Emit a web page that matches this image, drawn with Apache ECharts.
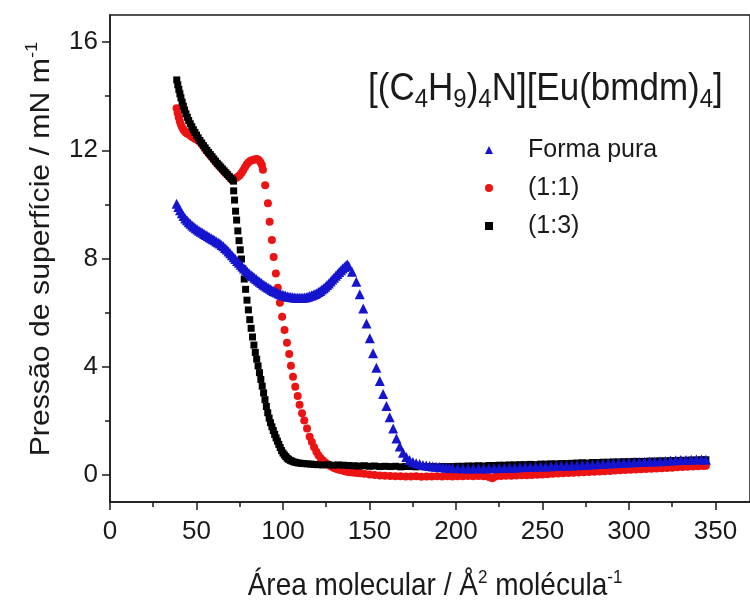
<!DOCTYPE html>
<html>
<head>
<meta charset="utf-8">
<script src="https://cdn.jsdelivr.net/npm/echarts@6/dist/echarts.min.js"></script>
<style>
  html, body { margin: 0; padding: 0; background: #ffffff; }
  #chart { width: 750px; height: 603px; }
</style>
</head>
<body>
<div id="chart"></div>
<script>
// Surface pressure isotherms of [(C4H9)4N][Eu(bmdm)4]

// Forma pura (blue triangles)
const pureX = [
  38.5, 39.5, 40.5, 41.5, 42.5, 43.5, 44.5, 45.5, 46.5, 47.5, 48.5, 49.5, 50.5, 51.5, 52.5, 53.5,
  54.5, 55.5, 56.5, 57.5, 58.5, 59.5, 60.5, 61.5, 62.5, 63.5, 64.5, 65.5, 66.5, 67.5, 68.5, 69.5,
  70.5, 71.5, 72.5, 73.5, 74.5, 75.5, 76.5, 77.5, 78.5, 79.5, 80.5, 81.5, 82.5, 83.5, 84.5, 85.5,
  86.5, 87.5, 88.5, 89.5, 90.5, 91.5, 92.5, 93.5, 94.5, 95.5, 96.5, 97.5, 98.5, 99.5, 100.5, 101.5,
  102.5, 103.5, 104.5, 105.5, 106.5, 107.5, 108.5, 109.5, 110.5, 111.5, 112.5, 113.5, 114.5, 115.5,
  116.5, 117.5, 118.5, 119.5, 120.5, 121.5, 122.5, 123.5, 124.5, 125.5, 126.5, 127.5, 128.5, 129.5,
  130.5, 131.5, 132.5, 133.5, 134.5, 135.5, 136.5, 137.2, 138.0,
  139.9, 142.4, 144.4, 146.4, 148.3, 150.2, 152.1, 154.0, 156.0, 157.9, 159.8, 161.7, 163.7, 165.6,
  167.5, 169.4, 171.3, 173.2, 175.1, 177.0, 179.0, 180.9, 182.8, 184.7, 186.6, 188.5, 190.5, 192.4,
  194.3, 196.2, 198.1, 201, 204, 207, 210, 213, 216, 219, 222, 225, 228, 231, 234, 237, 240, 243,
  246, 249, 252, 255, 258, 261, 264, 267, 270, 273, 276, 279, 282, 285, 288, 291, 294, 297, 300,
  303, 306, 309, 312, 315, 318, 321, 324, 327, 330, 333, 336, 339, 342, 344.5
];
const pureY = [
  10.02, 9.9, 9.78, 9.67, 9.57, 9.48, 9.41, 9.34, 9.28, 9.22, 9.17, 9.12, 9.07, 9.03, 8.99, 8.95,
  8.91, 8.87, 8.83, 8.79, 8.75, 8.71, 8.67, 8.63, 8.59, 8.55, 8.5, 8.45, 8.39, 8.33, 8.26, 8.19,
  8.12, 8.05, 7.98, 7.91, 7.84, 7.77, 7.7, 7.63, 7.57, 7.51, 7.45, 7.39, 7.34, 7.29, 7.24, 7.19,
  7.14, 7.09, 7.04, 7.0, 6.96, 6.92, 6.88, 6.84, 6.8, 6.77, 6.74, 6.71, 6.68, 6.66, 6.64, 6.62,
  6.6, 6.59, 6.58, 6.57, 6.56, 6.55, 6.55, 6.55, 6.55, 6.55, 6.56, 6.57, 6.59, 6.61,
  6.63, 6.66, 6.69, 6.72, 6.76, 6.8, 6.85, 6.9, 6.96, 7.02, 7.08, 7.15, 7.22, 7.29,
  7.36, 7.43, 7.5, 7.57, 7.63, 7.69, 7.75, 7.78, 7.72,
  7.51, 7.14, 6.68, 6.15, 5.6, 5.05, 4.5, 3.96, 3.47, 2.99, 2.55, 2.13, 1.72, 1.35,
  1.05, 0.82, 0.66, 0.55, 0.48, 0.43, 0.4, 0.37, 0.35, 0.33, 0.31, 0.3, 0.29, 0.28,
  0.27, 0.26, 0.26, 0.25, 0.25, 0.24, 0.24, 0.25, 0.24, 0.25, 0.25, 0.26, 0.26, 0.27, 0.27, 0.28, 0.29, 0.29,
  0.3, 0.31, 0.31, 0.32, 0.33, 0.34, 0.34, 0.35, 0.36, 0.37, 0.38, 0.39, 0.4, 0.41, 0.42, 0.43, 0.44, 0.45, 0.46,
  0.47, 0.48, 0.49, 0.5, 0.5, 0.51, 0.52, 0.53, 0.54, 0.55, 0.55, 0.56, 0.57, 0.57, 0.56
];

// (1:1) mixture (red circles)
const ratio11X = [
  38.5, 39.1, 39.7, 40.3, 40.9, 41.6, 42.3, 43.0, 43.8, 44.6, 45.4, 46.2, 47.0, 47.8, 48.6, 49.4,
  50.2, 51.0, 52.0, 53.3, 54.6, 55.8, 57.1, 58.4, 59.7, 60.9, 62.2, 63.5, 64.8, 66.0, 67.3, 68.6,
  69.9, 71.1, 72.0, 73, 74, 75, 76, 77, 78, 79, 80, 81, 82, 83, 84, 85, 86, 87, 87.8, 88.4,
  89.7, 91.3, 92.3, 93.6, 94.6, 95.9, 97.0, 98.2, 99.5, 100.9, 102.3, 103.6, 104.6, 105.8, 107.1,
  108.5, 109.6, 111.0, 112.3, 113.9, 115.4, 116.7, 118.0, 119.3, 120.5, 121.8, 123.1, 124.4, 125.6,
  126.9, 128.2, 129.5, 130.7, 132.0, 133.3, 134.6, 135.8, 137.1, 138.4, 139.7, 141.0, 142.2, 143.5,
  144.8, 147, 150, 153, 156, 159, 162, 165, 168, 171, 174, 177, 180, 183, 186, 189, 192, 195, 198,
  201, 204, 207, 210, 213, 216, 219, 221, 223, 226, 229, 232, 235, 238, 241, 244, 247, 250, 253,
  256, 259, 262, 265, 268, 271, 274, 277, 280, 283, 286, 289, 292, 295, 298, 301, 304, 307, 310,
  313, 316, 319, 322, 325, 328, 331, 334, 337, 340, 343, 344.5
];
const ratio11Y = [
  13.55, 13.38, 13.22, 13.08, 12.96, 12.86, 12.78, 12.71, 12.66, 12.62, 12.6, 12.56, 12.52, 12.48, 12.45, 12.42,
  12.4, 12.36, 12.31, 12.2, 12.08, 11.97, 11.87, 11.78, 11.68, 11.58, 11.48, 11.39, 11.3, 11.21, 11.12, 11.04,
  10.95, 10.9, 10.95, 10.98, 11.02, 11.08, 11.16, 11.26, 11.37, 11.47, 11.55, 11.6, 11.63, 11.65, 11.67, 11.68, 11.64, 11.56, 11.46, 11.28,
  10.71, 10.04, 9.36, 8.68, 8.06, 7.45, 6.92, 6.36, 5.85, 5.36, 4.89, 4.47, 4.04, 3.63, 3.26,
  2.92, 2.59, 2.28, 2.01, 1.72, 1.41, 1.22, 1.02, 0.86, 0.73, 0.62, 0.53, 0.46, 0.4,
  0.35, 0.3, 0.26, 0.23, 0.2, 0.18, 0.16, 0.14, 0.12, 0.11, 0.1, 0.09, 0.08, 0.07,
  0.06, 0.04, 0.02, 0.0, -0.02, -0.03, -0.04, -0.05, -0.05, -0.06, -0.06, -0.05, -0.07, -0.06, -0.06, -0.05, -0.06, -0.05, -0.06,
  -0.05, -0.05, -0.04, -0.05, -0.04, -0.05, -0.08, -0.12, -0.06, -0.04, -0.03, -0.03, -0.02, -0.01, -0.01, 0.0, 0.01, 0.02, 0.03,
  0.04, 0.05, 0.06, 0.07, 0.08, 0.09, 0.1, 0.11, 0.12, 0.13, 0.14, 0.15, 0.16, 0.17, 0.18, 0.19, 0.2, 0.21, 0.22,
  0.23, 0.24, 0.25, 0.26, 0.27, 0.28, 0.29, 0.3, 0.31, 0.32, 0.33, 0.34
];

// (1:3) mixture (black squares)
const ratio13X = [
  38.6, 39.2, 39.8, 40.4, 41.0, 41.7, 42.4, 43.1, 43.9, 44.7, 45.5, 46.4, 47.3, 48.2, 49.1, 50.0,
  51.0, 52.0, 53.0, 54.0, 55.0, 56.0, 57.0, 58.0, 59.0, 60.0, 61.0, 62.0, 63.0, 64.0, 65.0, 66.0,
  67.0, 68.0, 69.0, 70.0, 70.8, 71.4,
  71.5, 72.0, 72.6, 73.2, 73.9, 74.6, 75.3, 76.0, 76.8, 77.6, 78.4, 79.2, 80.0, 80.8, 81.6, 82.4,
  83.2, 84.0, 84.8, 85.6, 86.4, 87.2, 88.0, 88.8, 89.6, 90.4, 91.2, 92.0, 92.8, 93.6, 94.4, 95.2,
  96.0, 96.8, 97.6, 98.4, 99.2, 100.0, 100.8, 101.6, 102.4, 103.2, 104.2, 105.2, 106.4, 107.6, 109,
  110.5, 112, 114, 116, 118, 120, 123, 126, 129, 132, 135, 138, 141, 144, 147, 150, 153, 156, 159,
  162, 165, 168, 171, 174, 177, 180, 183, 186, 189, 192, 195, 198, 201, 204, 207, 210, 213, 216,
  219, 222, 225, 228, 231, 234, 237, 240, 243, 246, 249, 252, 255, 258, 261, 264, 267, 270, 273,
  276, 279, 282, 285, 288, 291, 294, 297, 300, 303, 306, 309, 312, 315, 318, 321, 324, 327, 330,
  333, 336, 339, 342, 344.5
];
const ratio13Y = [
  14.6, 14.42, 14.25, 14.09, 13.94, 13.78, 13.63, 13.49, 13.35, 13.22, 13.1, 12.98, 12.87, 12.76, 12.66, 12.56,
  12.46, 12.36, 12.27, 12.18, 12.09, 12.0, 11.92, 11.84, 11.76, 11.68, 11.6, 11.52, 11.45, 11.38, 11.31, 11.24,
  11.17, 11.1, 11.03, 10.96, 10.91, 10.86,
  10.5, 10.16, 9.75, 9.42, 9.02, 8.66, 8.32, 7.98, 7.62, 7.24, 6.86, 6.46, 6.1, 5.74, 5.42, 5.1,
  4.8, 4.53, 4.28, 4.03, 3.78, 3.53, 3.28, 3.03, 2.78, 2.53, 2.3, 2.1, 1.93, 1.78, 1.64, 1.5,
  1.37, 1.25, 1.13, 1.01, 0.9, 0.81, 0.74, 0.68, 0.62, 0.58, 0.54, 0.51, 0.48, 0.46, 0.44,
  0.43, 0.42, 0.41, 0.4, 0.39, 0.38, 0.37, 0.38, 0.36, 0.37, 0.36, 0.35, 0.34, 0.33, 0.34, 0.32, 0.33, 0.31, 0.32,
  0.31, 0.32, 0.3, 0.31, 0.31, 0.3, 0.31, 0.3, 0.31, 0.3, 0.31, 0.31, 0.31, 0.32, 0.32, 0.33, 0.33, 0.34, 0.33,
  0.35, 0.35, 0.36, 0.36, 0.37, 0.37, 0.38, 0.38, 0.39, 0.38, 0.4, 0.4, 0.41, 0.41, 0.42, 0.42, 0.43, 0.44, 0.45,
  0.44, 0.46, 0.46, 0.47, 0.47, 0.48, 0.48, 0.49, 0.49, 0.5, 0.5, 0.5, 0.51, 0.51, 0.52, 0.52, 0.53, 0.53, 0.54,
  0.54, 0.55, 0.55, 0.56, 0.56
];

// Axis ticks and labels
const xMajorTicks = [0, 50, 100, 150, 200, 250, 300, 350];
const xMinorTicks = [25, 75, 125, 175, 225, 275, 325];
const yMajorTicks = [0, 4, 8, 12, 16];
const yMinorTicks = [2, 6, 10, 14];

const seriesNames = ['Forma pura', '(1:1)', '(1:3)'];

const FONT = '"Liberation Sans", Arial, Helvetica, sans-serif';
const INK = '#1a1a1a';

const zip = (xs, ys) => xs.map((x, i) => [x, ys[i]]);

const chart = echarts.init(document.getElementById('chart'), null, { renderer: 'canvas' });

const axisLineStyle = { color: INK, width: 1.5 };

chart.setOption({
  animation: false,
  backgroundColor: '#ffffff',
  grid: {
    left: 110, right: -1, top: 15, bottom: 101,
    show: true, borderColor: INK, borderWidth: 1.5, backgroundColor: 'transparent'
  },
  xAxis: [
    {
      type: 'value', min: 0, max: 370, position: 'bottom',
      axisLine: { show: true, onZero: false, lineStyle: axisLineStyle },
      axisTick: { show: true, inside: false, length: 8, customValues: xMajorTicks, lineStyle: axisLineStyle },
      axisLabel: { show: true, customValues: xMajorTicks, margin: 17, fontSize: 26, fontFamily: FONT, color: INK },
      splitLine: { show: false }
    },
    {
      type: 'value', min: 0, max: 370, position: 'bottom',
      axisLine: { show: false, onZero: false },
      axisTick: { show: true, inside: false, length: 5, customValues: xMinorTicks, lineStyle: axisLineStyle },
      axisLabel: { show: false },
      splitLine: { show: false }
    }
  ],
  yAxis: [
    {
      type: 'value', min: -1, max: 17, position: 'left',
      axisLine: { show: true, onZero: false, lineStyle: axisLineStyle },
      axisTick: { show: true, inside: false, length: 8, customValues: yMajorTicks, lineStyle: axisLineStyle },
      axisLabel: { show: true, customValues: yMajorTicks, margin: 12, fontSize: 26, fontFamily: FONT, color: INK },
      splitLine: { show: false }
    },
    {
      type: 'value', min: -1, max: 17, position: 'left',
      axisLine: { show: false, onZero: false },
      axisTick: { show: true, inside: false, length: 5, customValues: yMinorTicks, lineStyle: axisLineStyle },
      axisLabel: { show: false },
      splitLine: { show: false }
    }
  ],
  legend: {
    orient: 'vertical',
    left: 480, top: 131,
    itemWidth: 8, itemHeight: 8, itemGap: 10,
    data: seriesNames,
    textStyle: { fontSize: 25, lineHeight: 28, fontFamily: FONT, color: INK, padding: [0, 0, 0, 30] }
  },
  graphic: [
    {
      type: 'text', x: 368, y: 89, scaleY: 1.1,
      style: {
        text: '[(C{s|4}H{s|9}){s|4}N][Eu(bmdm){s|4}]',
        fontSize: 35, lineHeight: 44, fontFamily: FONT, fill: INK,
        align: 'left', verticalAlign: 'middle',
        rich: { s: { fontSize: 24, lineHeight: 20, verticalAlign: 'bottom', fontFamily: FONT, fill: INK } }
      }
    },
    {
      type: 'text', x: 435, y: 587, scaleY: 1.1,
      style: {
        text: 'Área molecular / Å{p|2} molécula{p|-1}',
        fontSize: 28, lineHeight: 34, fontFamily: FONT, fill: INK,
        align: 'center', verticalAlign: 'middle',
        rich: { p: { fontSize: 17, lineHeight: 12, verticalAlign: 'top', fontFamily: FONT, fill: INK } }
      }
    },
    {
      type: 'text', x: 41, y: 249, rotation: Math.PI / 2, scaleX: 1.08,
      style: {
        text: 'Pressão de superfície / mN m{p|-1}',
        fontSize: 28, lineHeight: 34, fontFamily: FONT, fill: INK,
        align: 'center', verticalAlign: 'middle',
        rich: { p: { fontSize: 17, lineHeight: 12, verticalAlign: 'top', fontFamily: FONT, fill: INK } }
      }
    }
  ],
  series: [
    {
      name: seriesNames[1], type: 'scatter', xAxisIndex: 0, yAxisIndex: 0,
      symbol: 'circle', symbolSize: 8,
      itemStyle: { color: '#ec1313', opacity: 1 },
      data: zip(ratio11X, ratio11Y)
    },
    {
      name: seriesNames[2], type: 'scatter', xAxisIndex: 0, yAxisIndex: 0,
      symbol: 'rect', symbolSize: 7,
      itemStyle: { color: '#000000', opacity: 1 },
      data: zip(ratio13X, ratio13Y)
    },
    {
      name: seriesNames[0], type: 'scatter', xAxisIndex: 0, yAxisIndex: 0,
      symbol: 'triangle', symbolSize: 10,
      itemStyle: { color: '#1515cf', opacity: 1 },
      data: zip(pureX, pureY)
    }
  ]
});
</script>
</body>
</html>
